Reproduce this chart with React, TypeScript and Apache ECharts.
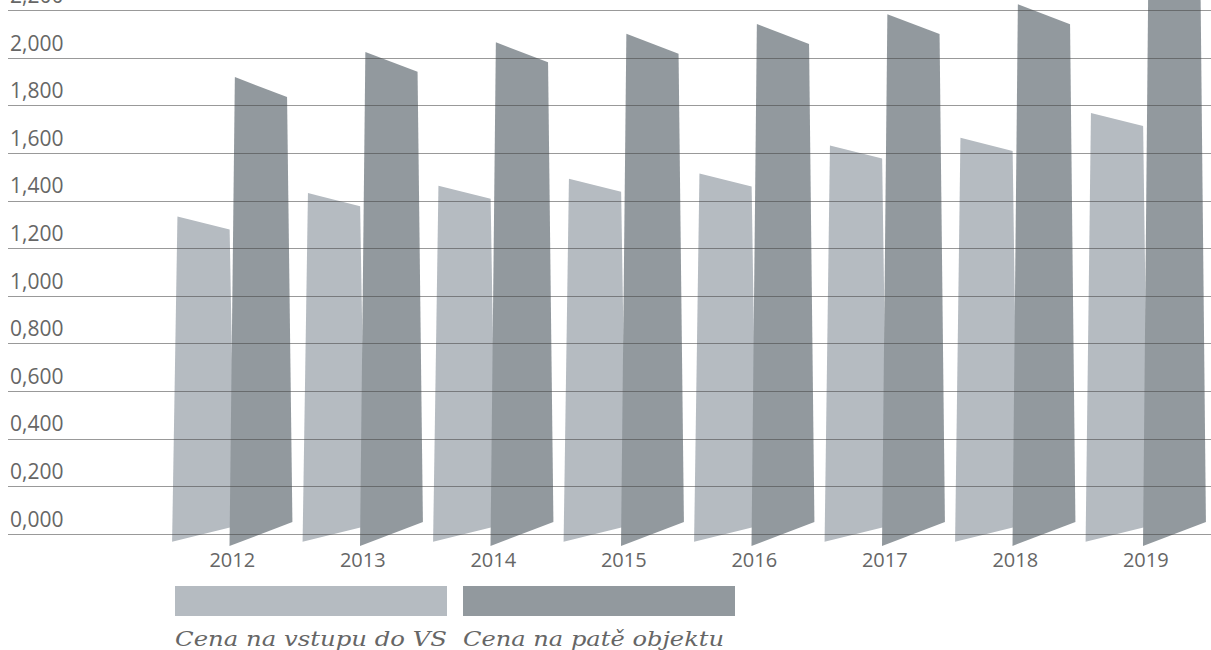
import React, { useEffect, useRef } from 'react';
import * as echarts from 'echarts';

const years = ['2012', '2013', '2014', '2015', '2016', '2017', '2018', '2019'];
const entryPrice = [1.307, 1.405, 1.436, 1.465, 1.487, 1.605, 1.637, 1.742];
const footPrice = [1.878, 1.984, 2.024, 2.06, 2.101, 2.142, 2.184, 2.32];
const seriesNames = ['Cena na vstupu do VS', 'Cena na patě objektu'];
const colors = ['#b5bbc1', '#92999e'];
const yMin = 0;
const yMax = 2.4;
const yStep = 0.2;

const SHIFT = 60; // container is shifted up so the top of the chart is cropped like in the reference

function makeRender(offsetRatio: number, slope: number, color: string) {
  return (params: any, api: any) => {
    const cat = api.value(0);
    const val = api.value(1);
    const top = api.coord([cat, val]);
    const base = api.coord([cat, 0]);
    const band = api.size([1, 0])[0];
    const cx = top[0] + band * offsetRatio;
    const ht = band * 0.2;
    const hb = band * 0.241;
    return {
      type: 'polygon',
      shape: {
        points: [
          [cx - ht, top[1] - slope * ht],
          [cx + ht, top[1] + slope * ht],
          [cx + hb, base[1] - slope * hb],
          [cx - hb, base[1] + slope * hb],
        ],
      },
      style: { fill: color },
    };
  };
}

export default function App() {
  const ref = useRef<HTMLDivElement>(null);
  useEffect(() => {
    if (!ref.current) return;
    const chart = echarts.init(ref.current, undefined, { renderer: 'svg' });
    const gridTop = SHIFT - 37.2;
    const gridBottom = 116;
    const labelFont = { fontFamily: 'Open Sans', fontWeight: 'normal' as any, color: '#666' };
    const legendFont = 'italic 21px "DejaVu Serif"';
    chart.setOption({
      animation: false,
      grid: [
        { left: 8, right: 0, top: gridTop, bottom: gridBottom },
        { left: 167, right: 0, top: gridTop, bottom: gridBottom },
      ],
      xAxis: [
        { type: 'value', gridIndex: 0, show: false, min: 0, max: 1 },
        {
          type: 'category',
          gridIndex: 1,
          data: years,
          axisLine: { show: false },
          axisTick: { show: false },
          splitLine: { show: false },
          axisLabel: { ...labelFont, fontSize: 20, margin: 15 },
        },
      ],
      yAxis: [
        {
          type: 'value',
          gridIndex: 0,
          min: yMin,
          max: yMax,
          interval: yStep,
          z: 5,
          axisLine: { show: false },
          axisTick: { show: false },
          splitLine: { show: true, lineStyle: { color: 'rgba(70,70,70,0.55)', width: 1 } },
          axisLabel: {
            ...labelFont,
            fontSize: 21,
            inside: true,
            margin: 2,
            verticalAlign: 'bottom',
            padding: [0, 0, 5, 0],
            showMaxLabel: false,
            formatter: (v: number) => v.toFixed(3).replace('.', ','),
          },
        },
        { type: 'value', gridIndex: 1, min: yMin, max: yMax, show: false },
      ],
      series: [
        {
          type: 'custom',
          name: seriesNames[0],
          xAxisIndex: 1,
          yAxisIndex: 1,
          clip: false,
          z: 2,
          renderItem: makeRender(-0.22, 0.25, colors[0]),
          encode: { x: 0, y: 1 },
          data: years.map((_, i) => [i, entryPrice[i]]),
        },
        {
          type: 'custom',
          name: seriesNames[1],
          xAxisIndex: 1,
          yAxisIndex: 1,
          clip: false,
          z: 3,
          renderItem: makeRender(0.22, 0.38, colors[1]),
          encode: { x: 0, y: 1 },
          data: years.map((_, i) => [i, footPrice[i]]),
        },
      ],
      graphic: [
        { type: 'rect', shape: { x: 175, y: 586 + SHIFT, width: 272, height: 30 }, style: { fill: colors[0] } },
        { type: 'rect', shape: { x: 463, y: 586 + SHIFT, width: 272, height: 30 }, style: { fill: colors[1] } },
        {
          type: 'text',
          x: 175,
          y: 649 + SHIFT,
          scaleX: 1.16,
          style: { text: seriesNames[0], font: legendFont, fill: '#666', verticalAlign: 'bottom' },
        },
        {
          type: 'text',
          x: 463,
          y: 649 + SHIFT,
          scaleX: 1.15,
          style: { text: seriesNames[1], font: legendFont, fill: '#666', verticalAlign: 'bottom' },
        },
      ],
    });
    return () => chart.dispose();
  }, []);
  return (
    <div
      ref={ref}
      style={{ position: 'fixed', left: 0, top: -SHIFT, width: 1211, height: 650 + SHIFT, background: '#fff' }}
    />
  );
}
